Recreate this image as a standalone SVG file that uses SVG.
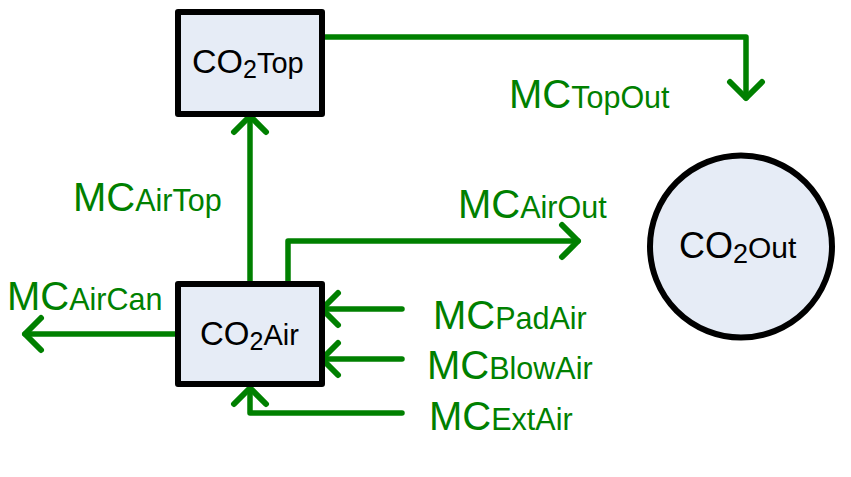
<svg xmlns="http://www.w3.org/2000/svg" width="851" height="477" viewBox="0 0 851 477">
<style>
.box{fill:#e6ecf6;stroke:#000;stroke-width:6;stroke-linejoin:round}
.nt{font-family:"Liberation Sans",Arial,sans-serif;fill:#000}
.conn{fill:none;stroke:#008000;stroke-width:5.5;stroke-linejoin:round;stroke-linecap:round}
.lbl{font-family:"Liberation Sans",Arial,sans-serif;fill:#008000}
.mc{font-size:40px}
.sub{font-size:30.5px}
</style>
<defs>
<marker id="chev" markerUnits="userSpaceOnUse" markerWidth="40" markerHeight="40" viewBox="-20 -20 40 40" refX="0" refY="0" orient="auto" overflow="visible">
<path d="M-16,-16 L0,0 L-16,16" fill="none" stroke="#008000" stroke-width="6" stroke-linecap="round" stroke-linejoin="round"/>
</marker>
</defs>
<rect width="851" height="477" fill="#fff"/>
<g id="connectors">
<path class="conn" d="M250,284 V116" marker-end="url(#chev)"/>
<path class="conn" d="M288,284 V241 H578" marker-end="url(#chev)"/>
<path class="conn" d="M322,37 H746 V98" marker-end="url(#chev)"/>
<path class="conn" d="M175,334 H25" marker-end="url(#chev)"/>
<path class="conn" d="M402,309 H322" marker-end="url(#chev)"/>
<path class="conn" d="M402,359 H322" marker-end="url(#chev)"/>
<path class="conn" d="M402,413 H250 V388" marker-end="url(#chev)"/>
</g>
<g id="labels">
<text class="lbl" x="509" y="108"><tspan class="mc">MC</tspan><tspan class="sub">TopOut</tspan></text>
<text class="lbl" x="458" y="218"><tspan class="mc">MC</tspan><tspan class="sub">AirOut</tspan></text>
<text class="lbl" x="73" y="211"><tspan class="mc">MC</tspan><tspan class="sub">AirTop</tspan></text>
<text class="lbl" x="7" y="310"><tspan class="mc">MC</tspan><tspan class="sub">AirCan</tspan></text>
<text class="lbl" x="433" y="329"><tspan class="mc">MC</tspan><tspan class="sub">PadAir</tspan></text>
<text class="lbl" x="427" y="379"><tspan class="mc">MC</tspan><tspan class="sub">BlowAir</tspan></text>
<text class="lbl" x="429" y="430"><tspan class="mc">MC</tspan><tspan class="sub">ExtAir</tspan></text>
</g>
<g id="CO2Top">
<rect class="box" x="178" y="12" width="144" height="102"/>
<text class="nt" x="192" y="73"><tspan font-size="34">CO</tspan><tspan font-size="25" dy="5">2</tspan><tspan font-size="29" dy="-5">Top</tspan></text>
</g>
<g id="CO2Air">
<rect class="box" x="178" y="284" width="144" height="100"/>
<text class="nt" x="200" y="345"><tspan font-size="33">CO</tspan><tspan font-size="25" dy="5">2</tspan><tspan font-size="29" dy="-5">Air</tspan></text>
</g>
<g id="CO2Out">
<circle class="box" cx="741" cy="246.5" r="91"/>
<text class="nt" x="679" y="258"><tspan font-size="36">CO</tspan><tspan font-size="27" dy="5">2</tspan><tspan font-size="30" dy="-5">Out</tspan></text>
</g>
</svg>
